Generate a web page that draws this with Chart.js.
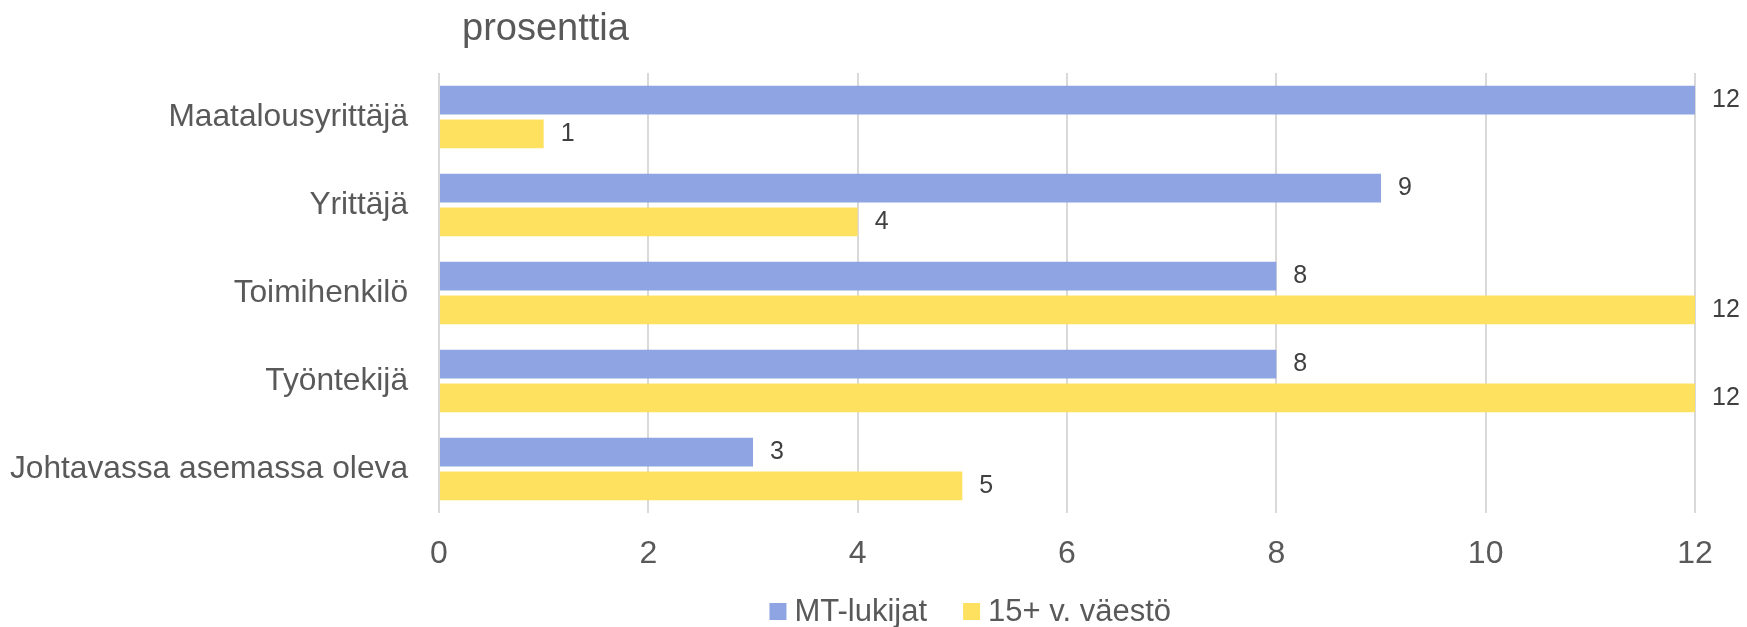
<!DOCTYPE html>
<html>
<head>
<meta charset="utf-8">
<script src="https://cdn.jsdelivr.net/npm/chart.js@4/dist/chart.umd.min.js"></script>
<style>
  html, body { margin: 0; padding: 0; background: #fff; }
</style>
</head>
<body>
<canvas id="ammattiChart" width="1747" height="627"></canvas>
<script>
const categories = ['Maatalousyrittäjä', 'Yrittäjä', 'Toimihenkilö', 'Työntekijä', 'Johtavassa asemassa oleva'];
const mtLukijat = [12, 9, 8, 8, 3];
const vaesto15 = [1, 4, 12, 12, 5];
const seriesNames = ['MT-lukijat', '15+ v. väestö'];
const seriesColors = ['#8FA5E3', '#FFE160'];
const xMin = 0;
const xMax = 12;
const xStep = 2;

const FONT = '"Liberation Sans", Arial, sans-serif';

// otsikko "prosenttia" kuva-alueen vasemman reunan mukaan
const unitTitle = {
  id: 'unitTitle',
  afterDraw(chart) {
    const ctx = chart.ctx;
    ctx.save();
    ctx.font = '38px ' + FONT;
    ctx.fillStyle = '#595959';
    ctx.textBaseline = 'alphabetic';
    ctx.fillText('prosenttia', chart.chartArea.left + 23, 40);
    ctx.restore();
  }
};

// arvot palkkien perään
const barValues = {
  id: 'barValues',
  afterDatasetsDraw(chart) {
    const ctx = chart.ctx;
    ctx.save();
    ctx.font = '25px ' + FONT;
    ctx.fillStyle = '#404040';
    ctx.textBaseline = 'middle';
    chart.data.datasets.forEach((ds, i) => {
      chart.getDatasetMeta(i).data.forEach((bar, j) => {
        ctx.fillText(String(ds.data[j]), bar.x + 17, bar.y);
      });
    });
    ctx.restore();
  }
};

// oma selite alareunaan (neliö + teksti, Excelin välein)
const bottomLegend = {
  id: 'bottomLegend',
  afterDraw(chart) {
    const ctx = chart.ctx;
    const box = 17, gap = 8, between = 36;
    ctx.save();
    ctx.font = '31px ' + FONT;
    ctx.textBaseline = 'middle';
    const items = chart.data.datasets.map(ds => ({
      text: ds.label,
      color: ds.backgroundColor,
      w: ctx.measureText(ds.label).width
    }));
    const total = items.reduce((s, it) => s + box + gap + it.w, 0) + between * (items.length - 1);
    const center = (chart.width / 2 + (chart.chartArea.left + chart.chartArea.right) / 2) / 2;
    const cy = 611.5;
    let x = center - total / 2;
    items.forEach(it => {
      ctx.fillStyle = it.color;
      ctx.fillRect(x, cy - box / 2, box, box);
      x += box + gap;
      ctx.fillStyle = '#595959';
      ctx.fillText(it.text, x, cy + 1);
      x += it.w + between;
    });
    ctx.restore();
  }
};

new Chart(document.getElementById('ammattiChart'), {
  type: 'bar',
  data: {
    labels: categories,
    datasets: [
      {
        label: seriesNames[0],
        data: mtLukijat,
        backgroundColor: seriesColors[0],
        borderWidth: 0,
        barPercentage: 0.85,
        categoryPercentage: 0.77
      },
      {
        label: seriesNames[1],
        data: vaesto15,
        backgroundColor: seriesColors[1],
        borderWidth: 0,
        barPercentage: 0.85,
        categoryPercentage: 0.77
      }
    ]
  },
  options: {
    indexAxis: 'y',
    responsive: false,
    animation: false,
    devicePixelRatio: 1,
    layout: {
      padding: { top: 73, right: 52, bottom: 54, left: 0 }
    },
    plugins: {
      legend: { display: false },
      tooltip: { enabled: false }
    },
    scales: {
      x: {
        min: xMin,
        max: xMax,
        afterFit(scale) { scale.height = 60; },
        ticks: {
          stepSize: xStep,
          padding: 22,
          color: '#595959',
          font: { family: FONT, size: 32 }
        },
        grid: {
          color: '#D9D9D9',
          lineWidth: 2,
          drawTicks: false
        },
        border: { display: false }
      },
      y: {
        afterFit(scale) { scale.width = 439; },
        ticks: {
          padding: 31,
          color: '#595959',
          font: { family: FONT, size: 31.7 }
        },
        grid: { display: false, drawTicks: false },
        border: { display: false }
      }
    }
  },
  plugins: [unitTitle, barValues, bottomLegend]
});
</script>
</body>
</html>
